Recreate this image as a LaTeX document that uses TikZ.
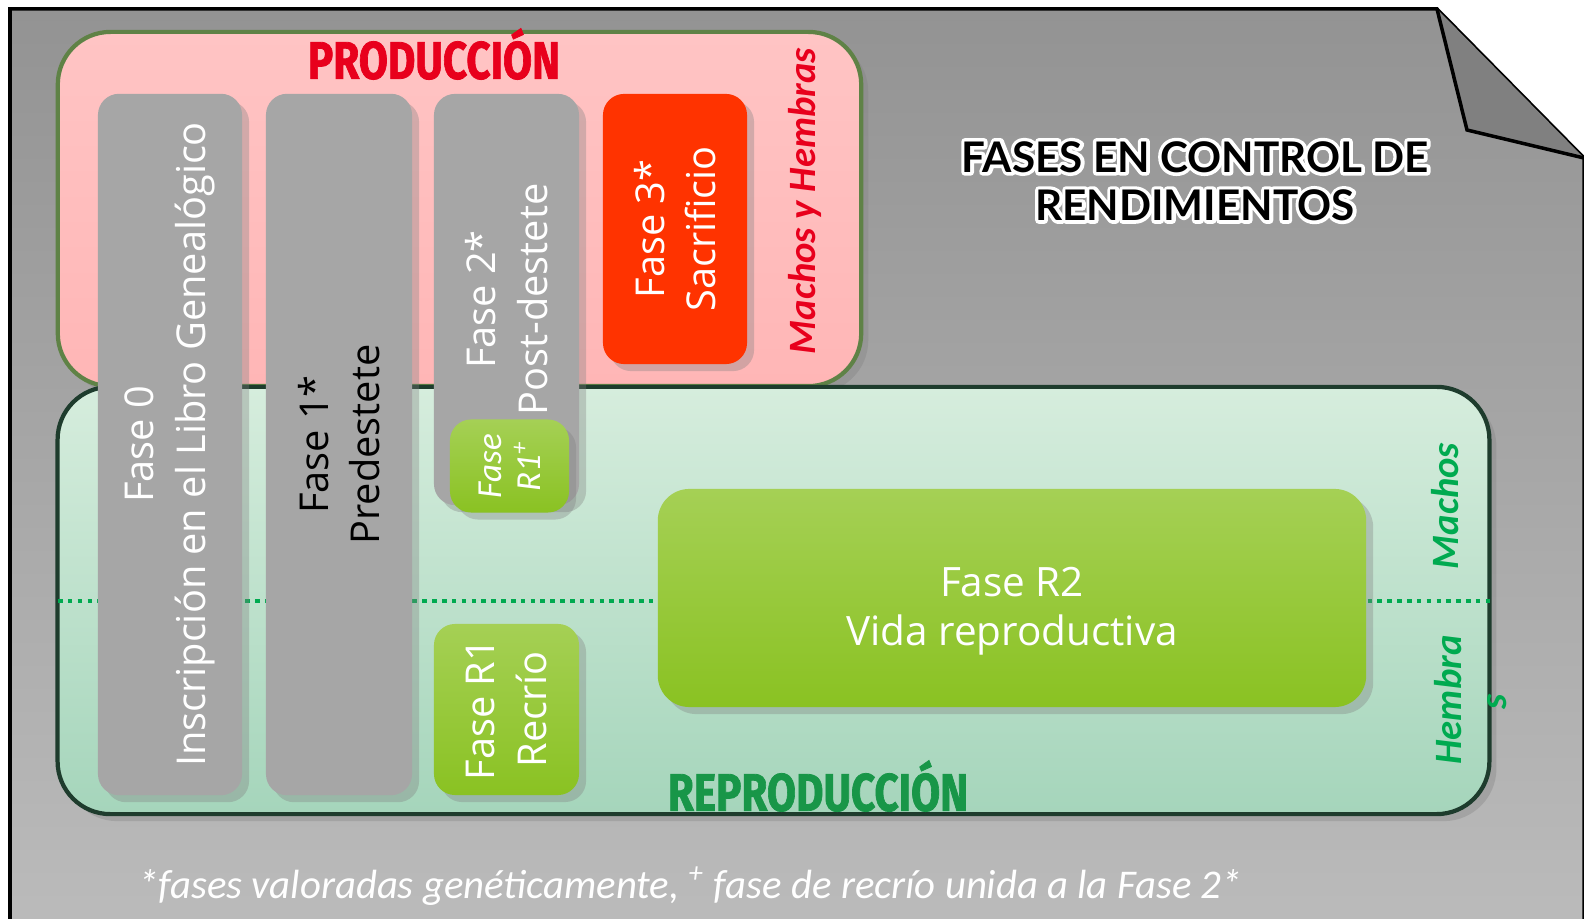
\documentclass[tikz,border=0pt]{standalone}
\usepackage{fontspec}
\setmainfont{Open Sans}
\newfontfamily\calfont{Carlito}
\newfontfamily\titlefont{Lato}
\newfontfamily\headfont{Fira Sans}[BoldFeatures={FakeBold=1.5}]
\usetikzlibrary{shadows}

% colours
\definecolor{pagetop}{RGB}{147,147,147}
\definecolor{pagebot}{RGB}{187,187,187}
\definecolor{foldgray}{RGB}{128,128,128}
\definecolor{prodtop}{RGB}{255,196,196}
\definecolor{prodpink}{RGB}{255,182,182}
\definecolor{prodline}{RGB}{95,130,70}
\definecolor{prodred}{RGB}{232,0,28}
\definecolor{reptop}{RGB}{214,237,221}
\definecolor{repbot}{RGB}{165,213,187}
\definecolor{repline}{RGB}{30,60,45}
\definecolor{repgreen}{RGB}{24,150,72}
\definecolor{sexgreen}{RGB}{0,170,80}
\definecolor{colgray}{RGB}{166,166,166}
\definecolor{sacred}{RGB}{255,51,0}
\definecolor{limetop}{RGB}{165,208,85}
\definecolor{limebot}{RGB}{138,194,34}

% white outline behind the black letters of the main title
\newcommand{\outlinedtext}[1]{%
  \rlap{\special{pdf:literal direct 1 Tr 1 j 2 w 1 1 1 RG}#1\special{pdf:literal direct 0 Tr}}#1}

\tikzset{
  softshadow/.style={drop shadow={shadow xshift=2pt, shadow yshift=-2pt, opacity=0.35}},
  areabox/.style={rounded corners=15pt, line width=1.2pt, softshadow},
  colbox/.style={rounded corners=6pt, fill=colgray, softshadow},
  limebox/.style={rounded corners=6pt, top color=limetop, bottom color=limebot, softshadow},
  coltext/.style={rotate=90, align=center, text=white, font=\fontsize{11.3}{14.6}\selectfont},
  areatitle/.style={font=\fontsize{15}{15}\headfont\bfseries},
  sextext/.style={rotate=90, font=\fontsize{11}{11}\calfont\bfseries\itshape},
  sexline/.style={sexgreen, line width=1.3pt, dash pattern=on 1.3pt off 1.5pt}
}

\begin{document}
\begin{tikzpicture}[x=0.01cm, y=-0.01cm]

    \useasboundingbox (0,0) rectangle (1584,919);

    % the grey page with its folded corner
    \shade[top color=pagetop, bottom color=pagebot, draw=black, line width=1pt]
        (10,930) -- (10,9) -- (1437,9) -- (1584,158) -- (1584,930);
    \filldraw[fill=foldgray, draw=black, line width=1pt] (1437,9) -- (1467,130) -- (1584,158);

    % the two areas
    \node[areabox, draw=prodline, top color=prodtop, bottom color=prodpink,
          minimum width=8.03cm, minimum height=3.54cm] (prod) at (459.5,209) {};
    \node[areabox, draw=repline, top color=reptop, bottom color=repbot,
          minimum width=14.31cm, minimum height=4.27cm] (repro) at (773.5,600.5) {};

    % dividing line between males and females
    \coordinate (divL) at (58,601);
    \coordinate (divR) at (1495,601);
    \draw[sexline] (divL) -- (divR);

    % the phases
    \node[colbox, minimum width=1.44cm, minimum height=7.01cm] (fase0) at (170,444.5) {};
    \node[colbox, minimum width=1.46cm, minimum height=7.01cm] (fase1) at (339,444.5) {};
    \node[colbox, minimum width=1.45cm, minimum height=4.11cm] (fase2) at (506.5,299.5) {};
    \node[colbox, fill=sacred, minimum width=1.44cm, minimum height=2.70cm] (fase3) at (675,229) {};
    \node[limebox, minimum width=1.19cm, minimum height=0.93cm] (faseR1p) at (509.5,466) {};
    \node[limebox, minimum width=1.45cm, minimum height=1.71cm] (faseR1) at (506.5,709.5) {};
    \node[limebox, rounded corners=9pt, minimum width=7.08cm, minimum height=2.18cm] (faseR2) at (1012,598) {};

    % texts of the phases
    \node[coltext] (fase0txt) at (fase0) {Fase 0\\Inscripción en el Libro Genealógico};
    \node[coltext, text=black] (fase1txt) at (fase1) {Fase 1*\\Predestete};
    \node[coltext] (fase2txt) at (fase2) {Fase 2*\\Post-destete};
    \node[coltext] (fase3txt) at (fase3) {Fase 3*\\Sacrificio};
    \node[coltext, font=\fontsize{10}{11}\calfont\itshape] (faseR1ptxt) at (faseR1p) {Fase\\R1\textsuperscript{+}};
    \node[coltext] (faseR1txt) at (faseR1) {Fase R1\\Recrío};
    \node[align=center, text=white, font=\fontsize{11.5}{13.8}\selectfont] (faseR2txt) at (1012,611) {Fase R2\\Vida reproductiva};

    % area titles
    \node[areatitle, text=prodred] (prodtitle) at (434,54) {\scalebox{0.8}[1]{PRODUCCIÓN}};
    \node[areatitle, text=repgreen] (reprotitle) at (818,786) {\scalebox{0.8}[1]{REPRODUCCIÓN}};

    % sexes
    \node[sextext, text=prodred] (ambos) at (805,201) {Machos y Hembras};
    \node[sextext, text=sexgreen] (machos) at (1445,506) {Machos};
    \node[sextext, text=sexgreen] (hembra) at (1448,700) {Hembra};
    \node[sextext, text=sexgreen] (hembras) at (1497,702) {s};

    % main title
    \node[align=center, font=\fontsize{12}{13.7}\titlefont\bfseries] (title) at (1195,181)
        {\outlinedtext{FASES EN CONTROL DE}\\\outlinedtext{RENDIMIENTOS}};

    % footnote
    \node[text=white, font=\fontsize{11.6}{11.6}\calfont\itshape] (note) at (690,886)
        {*fases valoradas genéticamente, \textsuperscript{+} fase de recrío unida a la Fase 2*};

\end{tikzpicture}
\end{document}
